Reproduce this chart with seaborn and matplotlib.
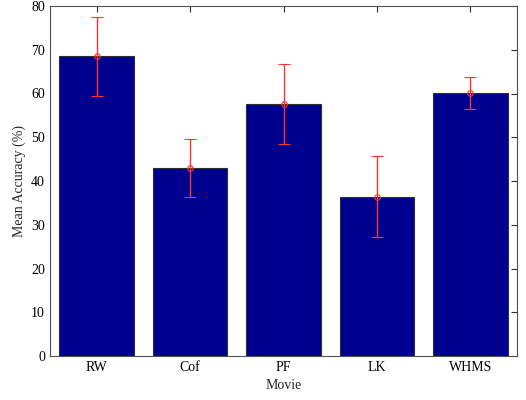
import matplotlib
matplotlib.use("Agg")
import matplotlib.pyplot as plt
import numpy as np
import pandas as pd
import seaborn as sns

movies = ["RW", "Cof", "PF", "LK", "WHMS"]
accuracy = [68.5, 43.0, 57.6, 36.4, 60.1]
err = [9.1, 6.6, 9.1, 9.3, 3.7]

df = pd.DataFrame({"Movie": movies, "Accuracy": accuracy})

sns.set_style("white")
plt.rcParams["font.family"] = ["Liberation Serif", "DejaVu Serif"]

fig = plt.figure(figsize=(5.26, 4.0), dpi=100)
ax = fig.add_axes([0.095, 0.11, 0.888, 0.875])

sns.barplot(data=df, x="Movie", y="Accuracy", color="#00008F", width=0.8,
            edgecolor="#303030", linewidth=0.8, saturation=1, ax=ax)
ax.errorbar(np.arange(len(movies)), accuracy, yerr=err, fmt="o", color="#FF3333",
            mfc="none", ms=4, mew=0.8, elinewidth=1, capsize=4, capthick=1)

ax.set_xlim(-0.5, 4.5)
ax.set_ylim(0, 80)
ax.set_yticks(range(0, 81, 10))
ax.set_xlabel("Movie", fontsize=10)
ax.set_ylabel("Mean Accuracy (%)", fontsize=10)
ax.tick_params(direction="in", length=4, width=0.8, labelsize=10, colors="#303030",
               top=True, right=True, labelcolor="black")
for s in ax.spines.values():
    s.set_visible(True)
    s.set_color("#505050")
    s.set_linewidth(0.8)

fig.savefig("out.png", dpi=100)
